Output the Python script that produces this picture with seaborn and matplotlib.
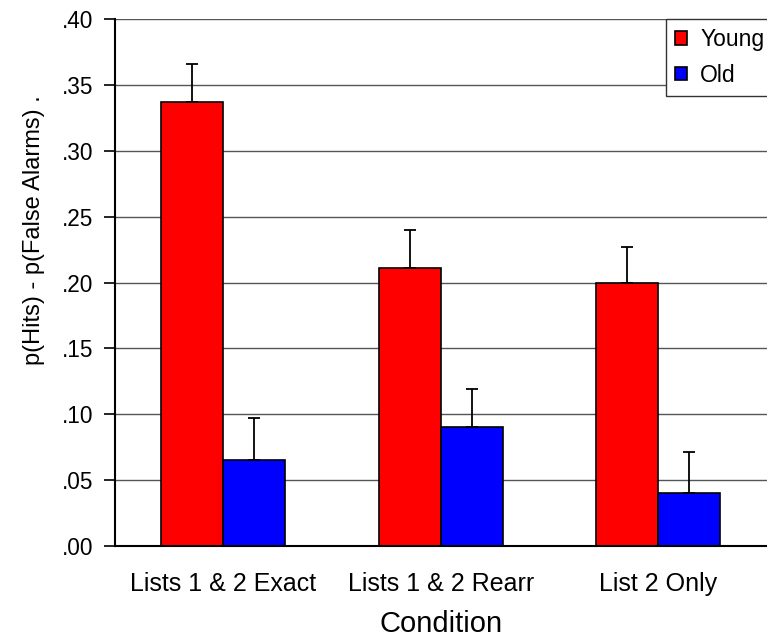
import matplotlib
matplotlib.use("Agg")
import matplotlib.pyplot as plt
import seaborn as sns
import pandas as pd
import numpy as np

conditions = ["Lists 1 & 2 Exact", "Lists 1 & 2 Rearr", "List 2 Only"]
groups = ["Young", "Old"]
young = [0.337, 0.211, 0.200]
old = [0.065, 0.090, 0.040]
young_err = [0.029, 0.029, 0.027]
old_err = [0.032, 0.029, 0.031]
yticks = [0.00, 0.05, 0.10, 0.15, 0.20, 0.25, 0.30, 0.35, 0.40]
ytick_labels = [".00", ".05", ".10", ".15", ".20", ".25", ".30", ".35", ".40"]

sns.set_style("white")
plt.rcParams["font.family"] = ["Liberation Sans", "DejaVu Sans"]
plt.rcParams["text.color"] = "black"
plt.rcParams["axes.labelcolor"] = "black"
plt.rcParams["xtick.color"] = "black"
plt.rcParams["ytick.color"] = "black"

df = pd.DataFrame({
    "Condition": conditions * 2,
    "Group": [groups[0]] * 3 + [groups[1]] * 3,
    "value": young + old,
    "err": young_err + old_err,
})

W, H = 767, 644
fig = plt.figure(figsize=(W / 100, H / 100), dpi=100)
left, right_px, top_px, bottom_px = 114.5, 767, 19, 546
ax = fig.add_axes([left / W, 1 - bottom_px / H, (right_px - left) / W, (bottom_px - top_px) / H])

sns.barplot(data=df, x="Condition", y="value", hue="Group", order=conditions,
            hue_order=groups, palette={"Young": "#FF0000", "Old": "#0000FF"},
            saturation=1, width=0.57, gap=0, errorbar=None, edgecolor="black",
            linewidth=1.2, ax=ax, legend=True)

errs = [young_err, old_err]
for cont, e in zip(ax.containers, errs):
    xs = [b.get_x() + b.get_width() / 2 for b in cont]
    hs = [b.get_height() for b in cont]
    ax.errorbar(xs, hs, yerr=[np.zeros(len(e)), e], fmt="none", ecolor="black",
                elinewidth=1.3, capsize=4.3, capthick=1.3, zorder=3)

cat_w = 221.0
ax.set_xlim(-0.5, -0.5 + (right_px - left) / cat_w)
ax.set_ylim(0, 0.40)
ax.set_yticks(yticks)
ax.set_yticklabels(ytick_labels)
ax.yaxis.grid(True, color="#555555", linewidth=1.0)
ax.set_axisbelow(True)

ax.set_xticks([0, 1, 2])
ax.set_xticks([-0.5, 0.5, 1.5, 2.5], minor=True)
ax.tick_params(axis="x", which="major", length=0, pad=19, labelsize=18)
ax.tick_params(axis="x", which="minor", length=6, width=1.2, direction="out", color="black")
ax.tick_params(axis="y", which="major", length=8, width=1.2, direction="out", color="black",
               pad=7, labelsize=16.3, left=True)

for s in ["top", "right"]:
    ax.spines[s].set_visible(False)
for s in ["left", "bottom"]:
    ax.spines[s].set_color("black")
    ax.spines[s].set_linewidth(1.5)

ax.set_xlabel("Condition", fontsize=21, labelpad=10)
ax.set_ylabel("p(Hits) - p(False Alarms) .", fontsize=17)
ax.yaxis.set_label_coords((45 - left) / (right_px - left), (bottom_px - 230) / (bottom_px - top_px))

handles, labels = ax.get_legend_handles_labels()
ax.get_legend().remove()
leg = ax.legend(handles, labels, loc="upper left",
                bbox_to_anchor=(666 / W, 1 - 19 / H), bbox_transform=fig.transFigure,
                borderaxespad=0, fontsize=16.5, handlelength=0.52, handleheight=0.52,
                handletextpad=0.57, labelspacing=0.55, borderpad=0.4,
                frameon=True, fancybox=False, shadow=False)
leg.get_frame().set_edgecolor("#333333")
leg.get_frame().set_linewidth(1.0)
leg.get_frame().set_alpha(1)

fig.savefig("out.png", dpi=100)
